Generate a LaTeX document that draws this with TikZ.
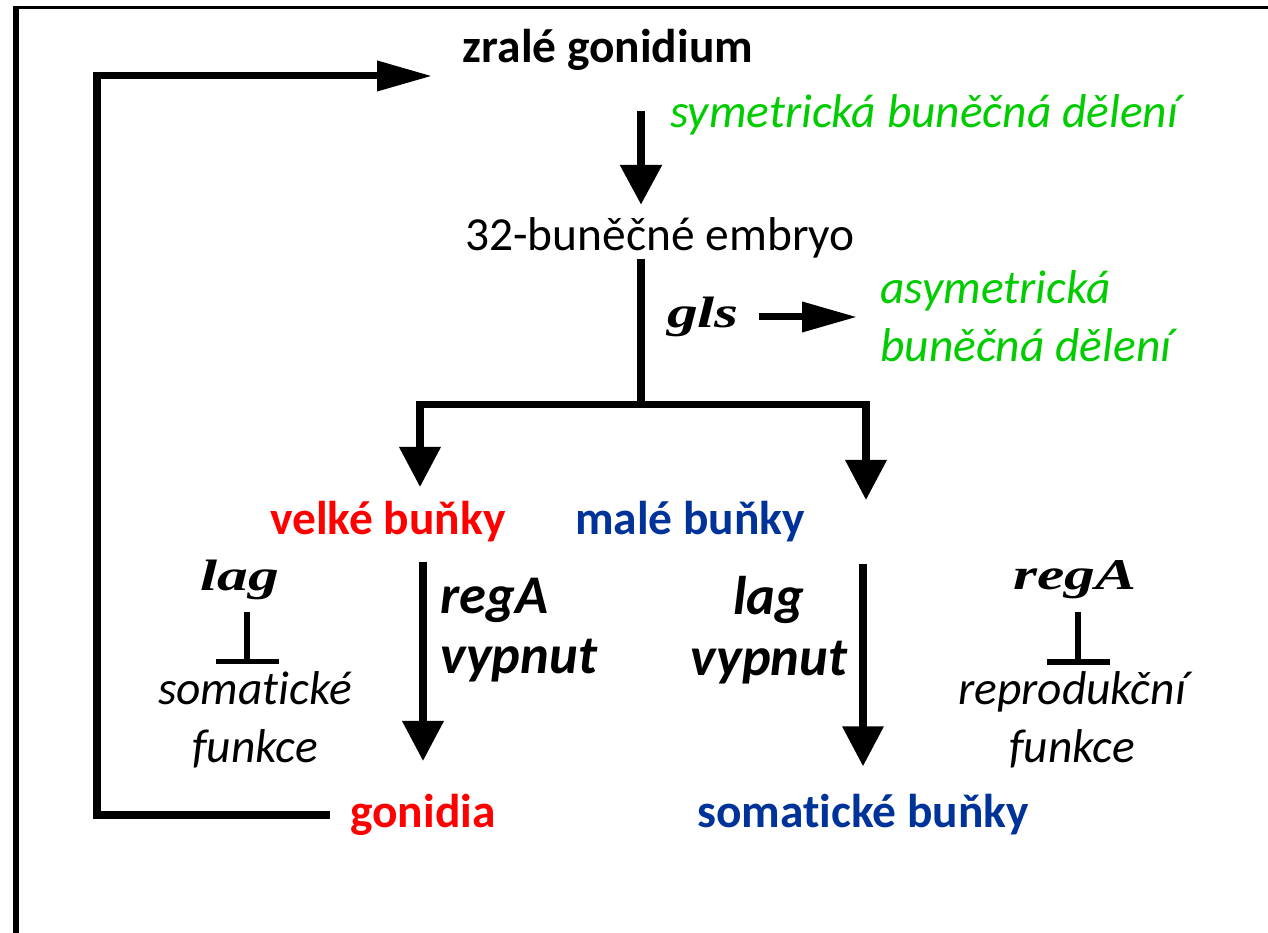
\documentclass[tikz,border=0pt]{standalone}
\usepackage{fontspec}
\setmainfont{Carlito}[Ligatures={NoCommon}]
\newfontfamily\genfont{Liberation Serif}
\usetikzlibrary{arrows.meta}
\definecolor{zelena}{RGB}{0,204,0}
\definecolor{modra}{RGB}{0,51,153}
\definecolor{cervena}{RGB}{255,0,0}
\def\vel{\fontsize{27}{33}\selectfont}
\newcommand{\gen}[1]{\scalebox{1.4}[1]{\fontsize{25}{30}\selectfont\genfont\bfseries\itshape #1}}
\begin{document}
\begin{tikzpicture}[line join=miter,
	txt/.style={inner sep=0pt, font=\vel},
	tucne/.style={inner sep=0pt, font=\vel\bfseries},
	kurz/.style={inner sep=0pt, font=\vel\itshape, align=center},
	tk/.style={inner sep=0pt, font=\fontsize{31}{34.5}\selectfont\bfseries\itshape},
	sip/.style={line width=4pt, -{Triangle[length=0.8cm,width=0.8cm]}},
	vsip/.style={line width=4pt, -{Triangle[length=1.1cm,width=0.58cm]}},
	tlum/.style={line width=3pt, -{Bar[width=1.26cm]}}]
	\useasboundingbox (0,0) rectangle (25.36,18.66);
	\fill[white] (0,0) rectangle (25.36,18.66);
	% ramecek
	\draw[line width=3.4pt] (0.32,0) -- (0.32,18.51);
	\draw[line width=2pt] (0.26,18.51) -- (25.36,18.51);
	% uzly
	\node[tucne] (zr) at (12.16,17.66) {zralé gonidium};
	\node[kurz, text=zelena, anchor=west] (sym) at (13.4,16.36) {symetrická buněčná dělení};
	\node[txt] (emb) at (13.2,13.9) {32-buněčné embryo};
	\node[txt] (gls) at (14.06,12.32) {\gen{gls}};
	\node[kurz, text=zelena, anchor=west, align=left] (asym) at (17.6,12.34) {asymetrická\\buněčná dělení};
	\node[tucne, text=cervena] (vel) at (7.76,8.22) {velké buňky};
	\node[tucne, text=modra] (mal) at (13.8,8.22) {malé buňky};
	\node[txt] (lagL) at (4.8,7.06) {\gen{lag}};
	\node[kurz] (somf) at (5.1,4.26) {somatické\\funkce};
	\node[tk, anchor=west, align=left] (regv) at (8.8,6.06) {regA\\vypnut};
	\node[tk, align=center] (lagv) at (15.38,6.06) {lag\\vypnut};
	\node[txt] (regR) at (21.5,7.06) {\gen{regA}};
	\node[kurz] (repf) at (21.44,4.26) {reprodukční\\funkce};
	\node[tucne, text=cervena] (gon) at (8.46,2.36) {gonidia};
	\node[tucne, text=modra] (sb) at (17.26,2.36) {somatické buňky};
	% spojnice
	\coordinate (os) at (12.82,0);
	\coordinate (rozc) at (12.82,10.56);
	\coordinate (velin) at (8.4,8.92);
	\coordinate (malin) at (17.32,8.66);
	\coordinate (zrin) at (8.64,17.14);
	\draw[sip, line width=5pt, shorten <=0.8cm, shorten >=0.25cm] (zr.south -| os) -- (emb.north -| os);
	\draw[line width=4pt] (emb.south -| os) -- (rozc);
	\draw[sip] (rozc) -| (velin);
	\draw[sip] (rozc) -| (malin);
	\draw[vsip, shorten <=0.4cm, shorten >=0.46cm] (gls.east) -- (gls.east -| asym.west);
	\draw[sip, shorten <=0.38cm, shorten >=0.66cm] (vel.south -| gon.north) -- (gon.north);
	\draw[sip, shorten <=0.42cm, shorten >=0.56cm] (mal.south -| sb.north) -- (sb.north);
	\draw[tlum] ([xshift=0.14cm,yshift=-0.24cm]lagL.south) -- ++(0,-1.04);
	\draw[tlum] ([xshift=0.06cm,yshift=-0.24cm]regR.south) -- ++(0,-1.06);
	\draw[vsip, shorten <=0.4cm] (gon.west) -| (1.94,17.14) -- (zrin);
\end{tikzpicture}
\end{document}
